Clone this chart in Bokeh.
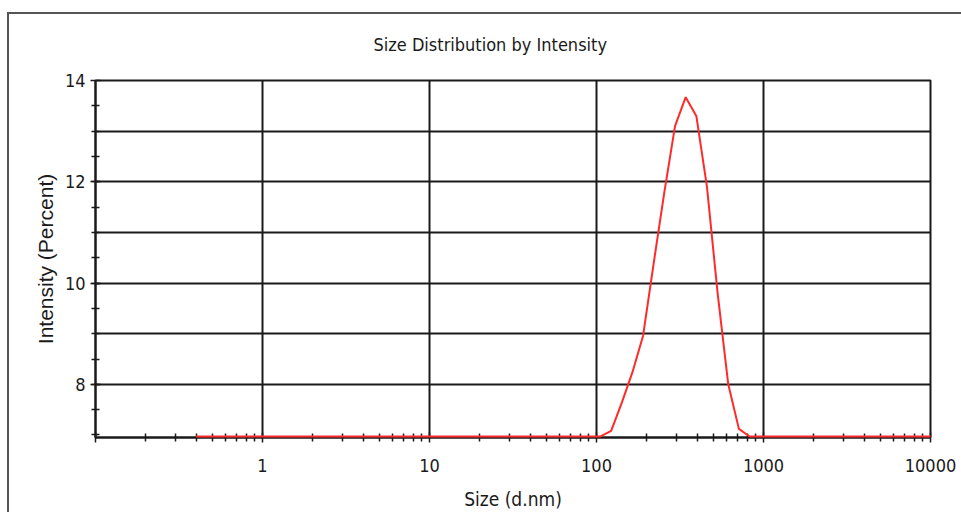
from bokeh.plotting import figure
from bokeh.models import FixedTicker, Title, InlineStyleSheet
from bokeh.embed import file_html
from bokeh.resources import INLINE
import numpy as np

# Size bins (d.nm) of the intensity distribution
sizes = [0.4, 0.4632, 0.5365, 0.6213, 0.7195, 0.8332, 0.9650, 1.117, 1.294, 1.499,
         1.736, 2.010, 2.328, 2.696, 3.122, 3.615, 4.187, 4.849, 5.615, 6.503,
         7.531, 8.721, 10.10, 11.70, 13.54, 15.69, 18.17, 21.04, 24.36, 28.21,
         32.67, 37.84, 43.82, 50.75, 58.77, 68.06, 78.82, 91.28, 105.7, 122.4,
         141.8, 164.2, 190.1, 220.2, 255.0, 295.3, 342.0, 396.1, 458.7, 531.2,
         615.1, 712.4, 825.0, 955.4, 1106, 1281, 1484, 1718, 1990, 2305,
         2669, 3091, 3580, 4145, 4801, 5560, 6439, 7456, 8635, 10000]

# Intensity (percent) per bin
intensity = [0, 0, 0, 0, 0, 0, 0, 0, 0, 0,
             0, 0, 0, 0, 0, 0, 0, 0, 0, 0,
             0, 0, 0, 0, 0, 0, 0, 0, 0, 0,
             0, 0, 0, 0, 0, 0, 0, 0, 0, 7.08,
             7.64, 8.24, 8.96, 10.4, 11.8, 13.1, 13.67, 13.3, 11.9, 9.8,
             8.0, 7.12, 0, 0, 0, 0, 0, 0, 0, 0,
             0, 0, 0, 0, 0, 0, 0, 0, 0, 0]

x_major = [0.1, 1, 10, 100, 1000, 10000]
x_tick_labels = ["", "1", "10", "100", "1000", "10000"]
y_major = [8, 10, 12, 14]
y_grid = [8, 9, 10, 11, 12, 13, 14]

Y_MIN, Y_MAX = 6.95, 14.0

x_minor = [m * d for d in [0.1, 1, 10, 100, 1000] for m in range(2, 10)]
y_minor = [7 + 0.5 * i for i in range(14)]

TICK_FONT = "DejaVu Sans Condensed"
INK = "#1a1a1a"

# report panel frame drawn behind the transparent canvas border
panel_css = InlineStyleSheet(css="""
:host {
  background-color: white;
  background-image: linear-gradient(#555555, #555555), linear-gradient(#555555, #555555);
  background-size: calc(100% - 7px) 2px, 2px calc(100% - 12px);
  background-position: 7px 12px, 7px 12px;
  background-repeat: no-repeat;
}
""")

p = figure(width=961, height=512, x_axis_type="log",
           x_range=(0.1, 10000), y_range=(Y_MIN, Y_MAX),
           output_backend="svg", toolbar_location=None,
           min_border_left=95, min_border_right=31,
           min_border_top=80, min_border_bottom=73,
           background_fill_color="white", border_fill_alpha=0)
p.stylesheets = [panel_css]

# empty bins sit on the axis floor
y_plot = np.maximum(np.array(intensity, dtype=float), Y_MIN + 0.02)
p.line(sizes, y_plot, line_color="#ff2a2a", line_width=2, level="overlay")

# axes
for ax in (p.xaxis[0], p.yaxis[0]):
    ax.axis_line_color = INK
    ax.axis_line_width = 2
    ax.major_tick_line_color = INK
    ax.minor_tick_line_color = INK
    ax.major_tick_line_width = 1.5
    ax.minor_tick_line_width = 1.5
    ax.major_tick_in = 5
    ax.major_tick_out = 5
    ax.minor_tick_in = 4
    ax.minor_tick_out = 4
    ax.major_label_text_font = TICK_FONT
    ax.major_label_text_font_size = "18px"
    ax.major_label_text_color = INK
    ax.axis_label_text_font_style = "normal"
    ax.axis_label_text_color = INK

p.xaxis.ticker = FixedTicker(ticks=x_major, minor_ticks=x_minor)
p.xaxis.major_label_overrides = dict(zip(x_major, x_tick_labels))
p.xaxis.major_label_standoff = 16
p.xaxis.axis_label = "Size (d.nm)"
p.xaxis.axis_label_text_font = TICK_FONT
p.xaxis.axis_label_text_font_size = "19px"
p.xaxis.axis_label_standoff = 13

p.yaxis.ticker = FixedTicker(ticks=y_major, minor_ticks=y_minor)
p.yaxis.major_label_standoff = 5
p.yaxis.axis_label = "Intensity (Percent)"
p.yaxis.axis_label_text_font = "Liberation Sans"
p.yaxis.axis_label_text_font_size = "21px"
p.yaxis.axis_label_standoff = 5

# grid
p.xgrid.ticker = FixedTicker(ticks=x_major)
p.ygrid.ticker = FixedTicker(ticks=y_grid)
for g in (p.xgrid[0], p.ygrid[0]):
    g.grid_line_color = INK
    g.grid_line_width = 2

p.outline_line_color = INK
p.outline_line_width = 2

# title
t = Title(text="Size Distribution by Intensity", align="left", offset=278,
          text_font=TICK_FONT, text_font_size="18px", text_font_style="normal",
          text_color=INK, standoff=52)
p.add_layout(t, "above")

open("out.html", "w").write(file_html(p, INLINE))
